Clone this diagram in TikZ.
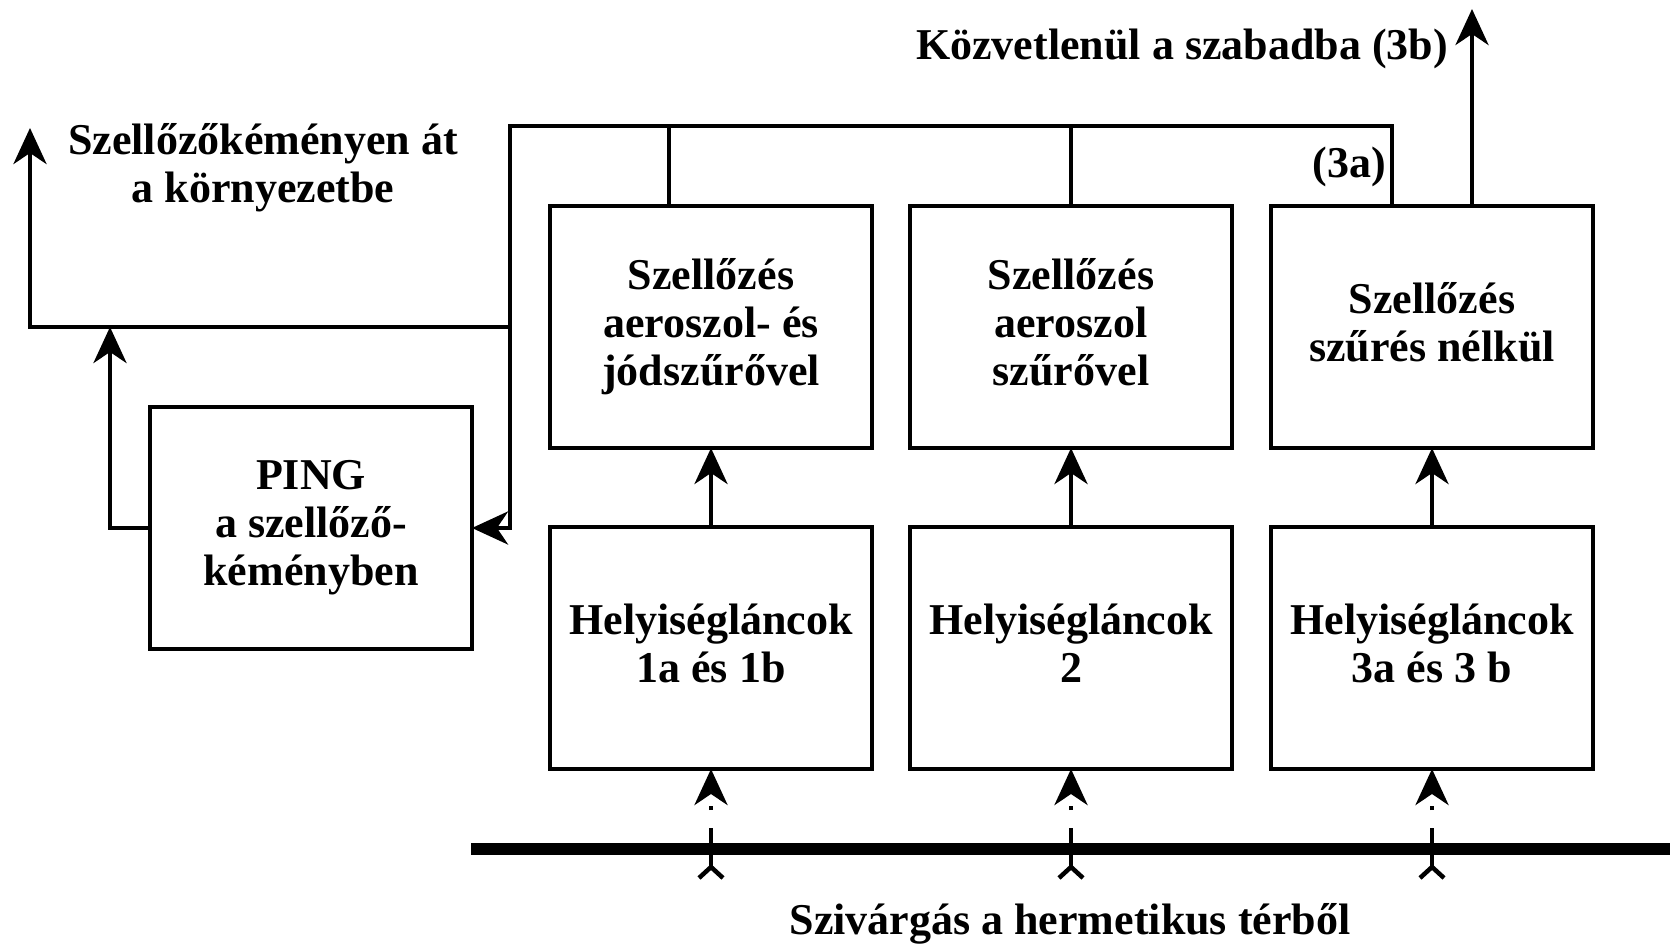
\documentclass[tikz,border=0pt]{standalone}
\usepackage{fontspec}
\setmainfont{Liberation Serif}
\usetikzlibrary{arrows.meta,calc}
\begin{document}
\begin{tikzpicture}[x=0.5pt,y=-0.5pt,
  font=\fontsize{22}{24}\selectfont\bfseries,
  box/.style={draw,line width=2.25pt,minimum width=161pt,minimum height=121pt,inner sep=0pt,outer sep=0pt,align=center},
  conn/.style={line width=2.25pt},
  arr/.style={conn,-{Stealth[length=18pt,width=16.5pt,inset=5.5pt]}},
  leak/.style={arr,dash pattern=on 19.5pt off 9pt on 2pt off 30pt},
  lbl/.style={inner sep=0pt,align=center},
  bus/.style={line width=6pt}]
\useasboundingbox (0,0) rectangle (1679,945);
% boxes
\node[box] (f1) at (711,327) {Szellőzés\\aeroszol- és\\jódszűrővel};
\node[box] (f2) at (1071,327) {Szellőzés\\aeroszol\\szűrővel\vphantom{j}};
\node[box] (f3) at (1432,327) {Szellőzés\\szűrés nélkül\vphantom{j}};
\node[box] (h1) at (711,648) {Helyiségláncok\\1a és 1b\vphantom{j}};
\node[box] (h2) at (1071,648) {Helyiségláncok\\2\vphantom{j}};
\node[box] (h3) at (1432,648) {Helyiségláncok\\3a és 3 b\vphantom{j}};
\node[box] (ping) at (311,528) {PING\\a szellőző-\\kéményben};
% labels
\node[lbl] (l3b) at (1182,49) {Közvetlenül a szabadba (3b)};
\node[lbl] (l3a) at (1349,167) {(3a)};
\node[lbl] (lenv) at (263,168) {Szellőzőkéményen át\\a környezetbe};
\node[lbl] (lleak) at (1070,924) {Szivárgás a hermetikus térből};
% coordinates
\coordinate (bl) at (510,126);
\coordinate (b1) at (669,126);
\coordinate (b3) at (1392,126);
\coordinate (j) at (510,327);
\coordinate (exh) at (30,128);
\coordinate (pj) at (110,327);
\coordinate (up) at (1472,9);
\coordinate (k1) at (471,849);
\coordinate (k2) at (1670,849);
\coordinate (s1) at (711,867);
\coordinate (s2) at (1071,867);
\coordinate (s3) at (1432,867);
% upward arrows between boxes
\draw[arr] (h1.north) -- (f1.south);
\draw[arr] (h2.north) -- (f2.south);
\draw[arr] (h3.north) -- (f3.south);
% collecting duct
\draw[arr] (f3.north -| b3) -- (b3) -- (bl) |- (ping.east);
\draw[conn] (f1.north -| b1) -- (b1);
\draw[conn] (f2.north) -- (f2.north |- bl);
\draw[arr] (j) -| (exh);
\draw[arr] (ping.west) -| (pj);
\draw[arr] (f3.north -| up) -- (up);
% hermetic boundary
\draw[bus] (k1) -- (k2);
\foreach \s/\h in {s1/h1,s2/h2,s3/h3}{
  \draw[leak] (\s) -- (\h.south);
  \draw[conn] (\s) -- ++(-12,11) (\s) -- ++(12,11);
}
\end{tikzpicture}
\end{document}
